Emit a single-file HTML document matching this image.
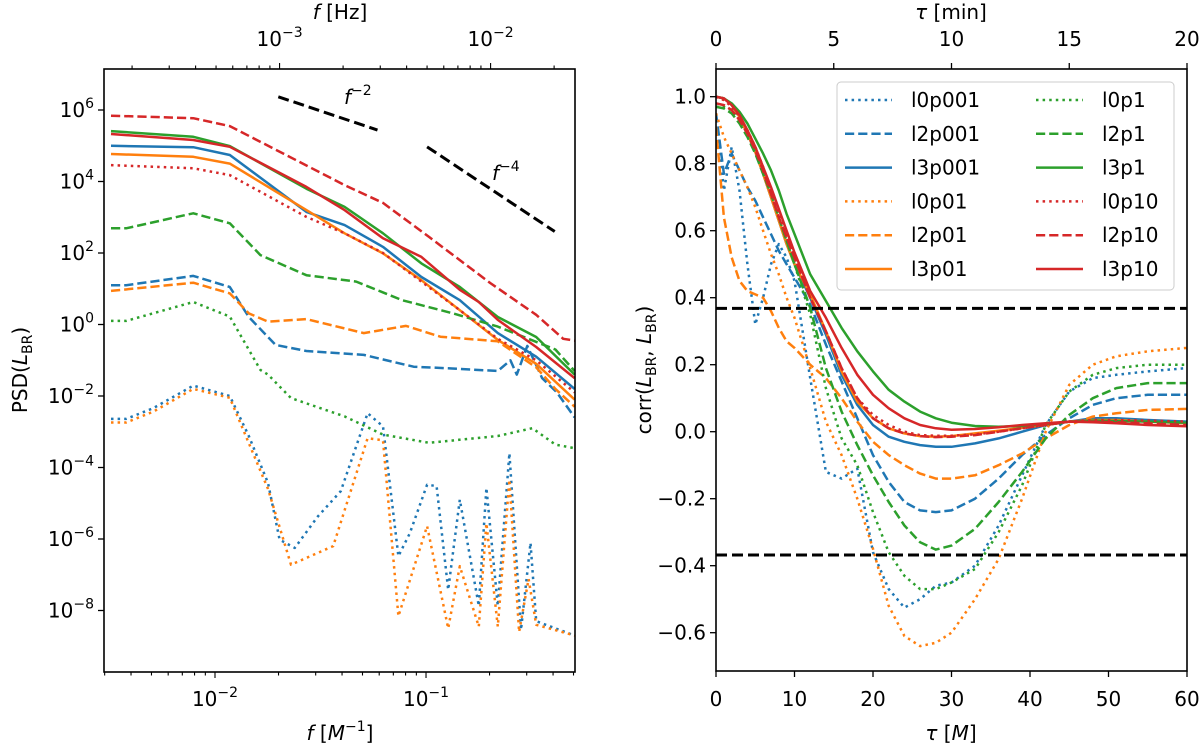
<!DOCTYPE html>
<html><head><meta charset="utf-8"><style>
body{margin:0;background:#fff}
svg{display:block;font-family:"DejaVu Sans","Liberation Sans",sans-serif}
</style></head><body>
<svg id="fig" width="1200" height="746" viewBox="0 0 1200 746" xmlns="http://www.w3.org/2000/svg">
<defs>
<clipPath id="clipL"><rect x="104" y="69" width="471" height="603"/></clipPath>
<clipPath id="clipR"><rect x="716" y="69" width="471" height="602"/></clipPath>
</defs>
<g id="left"></g>
<g id="right"></g>
</svg>
<script>
// ---------- PSD panel data (log10 f [1/M], log10 PSD) ----------
const psdNames = ["l0p001","l2p001","l3p001","l0p01","l2p01","l3p01","l0p1","l2p1","l3p1","l0p10","l2p10","l3p10"];
const lf_l0p001 = [-2.493,-2.421,-2.293,-2.103,-1.93,-1.84,-1.749,-1.694,-1.622,-1.513,-1.404,-1.277,-1.204,-1.131,-1.077,-0.995,-0.95,-0.895,-0.84,-0.75,-0.714,-0.66,-0.605,-0.55,-0.505,-0.478,-0.296];
const lp_l0p001 = [-2.64,-2.64,-2.34,-1.71,-2.0,-3.12,-4.43,-6.02,-6.25,-5.37,-4.66,-2.48,-2.85,-6.48,-5.84,-4.48,-4.52,-7.42,-4.9,-7.87,-4.57,-7.87,-3.6,-8.54,-6.11,-8.3,-8.7];
const lf_l2p001 = [-2.493,-2.421,-2.103,-1.93,-1.84,-1.713,-1.567,-1.295,-1.059,-0.877,-0.66,-0.6,-0.57,-0.52,-0.45,-0.38,-0.296];
const lp_l2p001 = [1.1,1.1,1.36,1.05,0.21,-0.57,-0.74,-0.85,-1.18,-1.23,-1.3,-1.0,-1.4,-0.6,-1.5,-1.9,-2.6];
const lf_l3p001 = [-2.493,-2.103,-1.93,-1.567,-1.386,-1.204,-1.022,-0.84,-0.66,-0.478,-0.296];
const lp_l3p001 = [5.0,4.96,4.74,3.15,2.78,2.17,1.33,0.68,-0.24,-0.9,-1.8];
const lf_l0p01 = [-2.493,-2.421,-2.293,-2.103,-1.93,-1.749,-1.64,-1.44,-1.277,-1.204,-1.131,-0.995,-0.895,-0.84,-0.75,-0.714,-0.66,-0.605,-0.559,-0.514,-0.478,-0.296];
const lp_l0p01 = [-2.74,-2.74,-2.44,-1.8,-2.05,-4.6,-6.72,-6.2,-3.18,-3.24,-8.16,-5.64,-8.5,-6.76,-8.45,-5.56,-8.45,-4.34,-8.6,-7.12,-8.4,-8.7];
const lf_l2p01 = [-2.493,-2.103,-1.93,-1.84,-1.749,-1.567,-1.295,-1.095,-0.932,-0.66,-0.478,-0.387,-0.296];
const lp_l2p01 = [0.94,1.17,0.87,0.31,0.08,0.15,-0.24,-0.04,-0.34,-0.47,-1.2,-1.8,-2.3];
const lf_l3p01 = [-2.493,-2.103,-1.93,-1.567,-1.386,-1.204,-1.022,-0.84,-0.66,-0.478,-0.296];
const lp_l3p01 = [4.77,4.69,4.5,3.2,2.55,1.99,1.24,0.4,-0.43,-1.1,-2.1];
const lf_l0p1 = [-2.493,-2.421,-2.103,-1.93,-1.785,-1.749,-1.64,-1.386,-1.204,-0.986,-0.66,-0.496,-0.387,-0.296];
const lp_l0p1 = [0.1,0.1,0.63,0.22,-1.27,-1.4,-2.06,-2.57,-3.08,-3.31,-3.12,-2.9,-3.36,-3.46];
const lf_l2p1 = [-2.493,-2.421,-2.103,-1.93,-1.785,-1.567,-1.331,-1.113,-0.877,-0.66,-0.387,-0.296];
const lp_l2p1 = [2.69,2.69,3.11,2.83,1.94,1.38,1.2,0.68,0.32,-0.06,-0.7,-1.3];
const lf_l3p1 = [-2.493,-2.103,-1.93,-1.567,-1.386,-1.204,-1.022,-0.84,-0.66,-0.478,-0.296];
const lp_l3p1 = [5.41,5.25,4.99,3.8,3.29,2.55,1.71,1.05,0.21,-0.35,-1.4];
const lf_l0p10 = [-2.493,-2.103,-1.93,-1.567,-1.386,-1.204,-1.022,-0.84,-0.66,-0.478,-0.296];
const lp_l0p10 = [4.46,4.37,4.18,3.01,2.55,2.0,1.2,0.4,-0.4,-1.0,-1.9];
const lf_l2p10 = [-2.493,-2.103,-1.93,-1.386,-1.204,-0.986,-0.696,-0.478,-0.35,-0.296];
const lp_l2p10 = [5.84,5.77,5.55,3.9,3.4,2.45,1.16,0.27,-0.4,-0.45];
const lf_l3p10 = [-2.493,-2.103,-1.93,-1.567,-1.386,-1.204,-1.022,-0.84,-0.75,-0.66,-0.478,-0.296];
const lp_l3p10 = [5.33,5.16,4.97,3.85,3.2,2.41,1.89,0.97,0.63,0.13,-0.63,-1.5];
const refM2_lf = [-1.7,-1.23];
const refM2_lp = [6.37,5.44];
const refM4_lf = [-0.995,-0.39];
const refM4_lp = [4.97,2.6];
const psdYTicks = [6,4,2,0,-2,-4,-6,-8];
const psdXTicks = [-2,-1];
const hzXTicks = [-3,-2];

// ---------- Correlation panel data ----------
const tau = [0,1,2,3,4,5,6,7,8,9,10,12,14,16,18,20,22,24,26,28,30,33,36,39,42,45,48,51,55,60];
const c_l0p001 = [0.95,0.72,0.85,0.72,0.5,0.32,0.4,0.5,0.56,0.52,0.45,0.16,-0.12,-0.14,-0.11,-0.36,-0.47,-0.525,-0.5,-0.46,-0.45,-0.4,-0.28,-0.13,0.02,0.12,0.16,0.17,0.18,0.19];
const c_l2p001 = [0.95,0.77,0.83,0.78,0.73,0.69,0.64,0.59,0.54,0.5,0.46,0.38,0.26,0.15,0.04,-0.07,-0.15,-0.21,-0.235,-0.24,-0.235,-0.2,-0.14,-0.07,-0.01,0.04,0.08,0.1,0.11,0.11];
const c_l3p001 = [1,0.995,0.975,0.94,0.89,0.835,0.77,0.7,0.63,0.56,0.5,0.4,0.29,0.17,0.08,0.02,-0.015,-0.03,-0.04,-0.045,-0.045,-0.035,-0.02,0,0.02,0.03,0.04,0.04,0.035,0.03];
const c_l0p01 = [0.95,0.88,0.83,0.78,0.73,0.67,0.6,0.53,0.47,0.4,0.34,0.19,0.03,-0.07,-0.2,-0.35,-0.52,-0.61,-0.64,-0.63,-0.6,-0.5,-0.38,-0.2,0,0.14,0.2,0.225,0.24,0.25];
const c_l2p01 = [0.91,0.64,0.52,0.45,0.42,0.41,0.4,0.36,0.31,0.27,0.25,0.2,0.16,0.1,0.03,-0.03,-0.07,-0.1,-0.125,-0.14,-0.14,-0.13,-0.1,-0.065,-0.02,0.02,0.045,0.055,0.065,0.068];
const c_l3p01 = [1,0.995,0.975,0.94,0.89,0.835,0.77,0.7,0.63,0.56,0.5,0.41,0.3,0.18,0.09,0.04,0.01,-0.005,-0.013,-0.015,-0.013,-0.005,0.003,0.012,0.02,0.03,0.035,0.035,0.03,0.025];
const c_l0p1 = [0.97,0.97,0.96,0.93,0.89,0.84,0.78,0.71,0.64,0.57,0.5,0.35,0.13,-0.02,-0.1,-0.24,-0.36,-0.43,-0.47,-0.47,-0.45,-0.41,-0.3,-0.16,0.02,0.12,0.17,0.19,0.2,0.2];
const c_l2p1 = [0.97,0.965,0.95,0.92,0.88,0.83,0.77,0.71,0.64,0.57,0.5,0.37,0.19,0.06,-0.04,-0.13,-0.21,-0.28,-0.33,-0.352,-0.34,-0.29,-0.21,-0.12,-0.02,0.05,0.1,0.13,0.145,0.145];
const c_l3p1 = [1,0.995,0.98,0.955,0.92,0.875,0.83,0.78,0.72,0.65,0.59,0.47,0.39,0.31,0.24,0.18,0.125,0.09,0.06,0.04,0.027,0.017,0.015,0.017,0.022,0.03,0.033,0.032,0.03,0.027];
const c_l0p10 = [1,0.99,0.97,0.94,0.9,0.85,0.79,0.72,0.65,0.58,0.52,0.4,0.3,0.19,0.1,0.05,0.02,0,-0.01,-0.012,-0.012,-0.008,0,0.01,0.02,0.03,0.035,0.035,0.033,0.03];
const c_l2p10 = [0.98,0.975,0.96,0.93,0.89,0.84,0.78,0.71,0.64,0.58,0.52,0.4,0.3,0.19,0.1,0.04,0.01,-0.005,-0.013,-0.016,-0.015,-0.01,0,0.01,0.02,0.03,0.03,0.028,0.025,0.02];
const c_l3p10 = [1,0.995,0.975,0.945,0.9,0.85,0.79,0.73,0.665,0.6,0.535,0.42,0.34,0.25,0.17,0.11,0.07,0.04,0.02,0.01,0.006,0.008,0.013,0.02,0.025,0.03,0.028,0.025,0.02,0.016];
const corrYTicks = [-0.6,-0.4,-0.2,0.0,0.2,0.4,0.6,0.8,1.0];
const corrXTicks = [0,10,20,30,40,50,60];
const minTicks = [0,5,10,15,20];
const threshold = [0.368,-0.368];

const NS="http://www.w3.org/2000/svg";
function mk(tag, attrs, parent){const e=document.createElementNS(NS,tag);for(const k in attrs)e.setAttribute(k,attrs[k]);parent.appendChild(e);return e;}
const colors={p001:"#1f77b4",p01:"#ff7f0e",p1:"#2ca02c",p10:"#d62728"};
function styleOf(name){const lv=name.slice(0,2);const p=name.slice(2);const c=colors[p];
 let dash=""; if(lv==="l0")dash="2.5,4.1"; else if(lv==="l2")dash="9.2,4";
 return {c,dash};}

// Left axes
const L={x0:104,x1:575,y0:69,y1:672,lfmin:-2.526,lfmax:-0.294,lpmax:7.14,lpmin:-9.72};
function lx(v){return L.x0+(v-L.lfmin)/(L.lfmax-L.lfmin)*(L.x1-L.x0);}
function ly(v){return 324.5-v*35.75;}
const gl=document.getElementById('left');
const datL={l0p001:[lf_l0p001,lp_l0p001],l2p001:[lf_l2p001,lp_l2p001],l3p001:[lf_l3p001,lp_l3p001],l0p01:[lf_l0p01,lp_l0p01],l2p01:[lf_l2p01,lp_l2p01],l3p01:[lf_l3p01,lp_l3p01],l0p1:[lf_l0p1,lp_l0p1],l2p1:[lf_l2p1,lp_l2p1],l3p1:[lf_l3p1,lp_l3p1],l0p10:[lf_l0p10,lp_l0p10],l2p10:[lf_l2p10,lp_l2p10],l3p10:[lf_l3p10,lp_l3p10]};
const gLines=mk('g',{'clip-path':'url(#clipL)'},gl);


psdNames.forEach(n=>{const [xs,ys]=datL[n];const s=styleOf(n);
 const d=xs.map((v,i)=>(i?'L':'M')+lx(v).toFixed(1)+','+ly(ys[i]).toFixed(1)).join('');
 const p=mk('path',{d,fill:'none',stroke:s.c,'stroke-width':2.5,'stroke-dasharray':s.dash,'stroke-linejoin':'round'},gLines);
 
 });
[[refM2_lf,refM2_lp,'ref-f-2'],[refM4_lf,refM4_lp,'ref-f-4']].forEach(r=>{
 const p=mk('line',{x1:lx(r[0][0]),y1:ly(r[1][0]),x2:lx(r[0][1]),y2:ly(r[1][1]),stroke:'#000','stroke-width':3,'stroke-dasharray':'11,5'},gl);
 
 });
function txt(parent,x,y,s,attrs,name){const t=mk('text',Object.assign({x,y,'font-size':20,fill:'#000'},attrs||{}),parent);t.innerHTML=s;return t;}
txt(gl,344,104,'<tspan font-style="italic">f</tspan><tspan font-size="14" dy="-9">−2</tspan>',{},'label-f-2');
txt(gl,492,180,'<tspan font-style="italic">f</tspan><tspan font-size="14" dy="-9">−4</tspan>',{},'label-f-4');
mk('rect',{x:L.x0,y:L.y0,width:L.x1-L.x0,height:L.y1-L.y0,fill:'none',stroke:'#000','stroke-width':1.6},gl);
psdYTicks.forEach(v=>{const y=ly(v);mk('line',{x1:L.x0-6,x2:L.x0,y1:y,y2:y,stroke:'#000','stroke-width':1.3},gl);
 txt(gl,L.x0-10,y+7,'10<tspan font-size="14" dy="-9">'+(v<0?'−'+(-v):v)+'</tspan>',{'text-anchor':'end'},'ytick-'+v);});
for(let d=-3;d<=-1;d++){for(let m=1;m<=9;m++){const v=d+Math.log10(m);if(v<L.lfmin-1e-3||v>L.lfmax)continue;
 const x=lx(v);mk('line',{x1:x,x2:x,y1:L.y1,y2:L.y1+(m===1?6:3.5),stroke:'#000','stroke-width':1.1},gl);}}
psdXTicks.forEach(v=>txt(gl,lx(v),706,'10<tspan font-size="14" dy="-9">−'+(-v)+'</tspan>',{'text-anchor':'middle'},'xtick-'+v));
const off=1.306;
for(let d=-4;d<=-2;d++){for(let m=1;m<=9;m++){const v=d+Math.log10(m)+off;if(v<L.lfmin-1e-3||v>L.lfmax)continue;
 const x=lx(v);mk('line',{x1:x,x2:x,y1:L.y0,y2:L.y0-(m===1?6:3.5),stroke:'#000','stroke-width':1.1},gl);}}
hzXTicks.forEach(v=>txt(gl,lx(v+off),46,'10<tspan font-size="14" dy="-9">−'+(-v)+'</tspan>',{'text-anchor':'middle'},'top-xtick-'+v));
txt(gl,340,740,'<tspan font-style="italic">f</tspan> [<tspan font-style="italic">M</tspan><tspan font-size="14" dy="-9">−1</tspan><tspan dy="9">]</tspan>',{'text-anchor':'middle'},'x-axis-title');
txt(gl,340,19,'<tspan font-style="italic">f</tspan> [Hz]',{'text-anchor':'middle'},'top-x-axis-title');
txt(gl,0,0,'PSD(<tspan font-style="italic">L</tspan><tspan font-size="14" dy="5">BR</tspan><tspan dy="-5">)</tspan>',{transform:'translate(27,370) rotate(-90)','text-anchor':'middle'},'y-axis-title');

// Right axes
const R={x0:716,x1:1187,y0:69,y1:671};
function rx(t){return R.x0+t*(R.x1-R.x0)/60;}
function ry(v){return 431.7-v*335;}
const gr=document.getElementById('right');
const datR={l0p001:c_l0p001,l2p001:c_l2p001,l3p001:c_l3p001,l0p01:c_l0p01,l2p01:c_l2p01,l3p01:c_l3p01,l0p1:c_l0p1,l2p1:c_l2p1,l3p1:c_l3p1,l0p10:c_l0p10,l2p10:c_l2p10,l3p10:c_l3p10};
const gRL=mk('g',{'clip-path':'url(#clipR)'},gr);


psdNames.forEach(n=>{const ys=datR[n];const s=styleOf(n);
 const d=tau.map((t,i)=>(i?'L':'M')+rx(t).toFixed(1)+','+ry(ys[i]).toFixed(1)).join('');
 const p=mk('path',{d,fill:'none',stroke:s.c,'stroke-width':2.5,'stroke-dasharray':s.dash,'stroke-linejoin':'round'},gRL);
 
 });
threshold.forEach((v,i)=>{const p=mk('line',{x1:R.x0,x2:R.x1,y1:ry(v),y2:ry(v),stroke:'#000','stroke-width':3,'stroke-dasharray':'11,5'},gRL);
 
 });
mk('rect',{x:R.x0,y:R.y0,width:R.x1-R.x0,height:R.y1-R.y0,fill:'none',stroke:'#000','stroke-width':1.6},gr);
corrYTicks.forEach(v=>{const y=ry(v);mk('line',{x1:R.x0-6,x2:R.x0,y1:y,y2:y,stroke:'#000','stroke-width':1.3},gr);
 txt(gr,R.x0-10,y+7,(v<0?'−':'')+Math.abs(v).toFixed(1),{'text-anchor':'end'},'corr-ytick');});
corrXTicks.forEach(t=>{const x=rx(t);mk('line',{x1:x,x2:x,y1:R.y1,y2:R.y1+6,stroke:'#000','stroke-width':1.3},gr);
 txt(gr,x,706,String(t),{'text-anchor':'middle'},'corr-xtick');});
minTicks.forEach(m=>{const x=rx(m*3);mk('line',{x1:x,x2:x,y1:R.y0,y2:R.y0-6,stroke:'#000','stroke-width':1.3},gr);
 txt(gr,x,46,String(m),{'text-anchor':'middle'},'min-xtick');});
txt(gr,951,740,'<tspan font-style="italic">τ</tspan> [<tspan font-style="italic">M</tspan>]',{'text-anchor':'middle'},'corr-x-axis-title');
txt(gr,951,19,'<tspan font-style="italic">τ</tspan> [min]',{'text-anchor':'middle'},'corr-top-axis-title');
txt(gr,0,0,'corr(<tspan font-style="italic">L</tspan><tspan font-size="14" dy="5">BR</tspan><tspan dy="-5">, </tspan><tspan font-style="italic">L</tspan><tspan font-size="14" dy="5">BR</tspan><tspan dy="-5">)</tspan>',{transform:'translate(651,370) rotate(-90)','text-anchor':'middle'},'corr-y-axis-title');
// legend
const lg=mk('g',{},gr);


mk('rect',{x:837,y:82,width:337,height:208,rx:4,fill:'#fff','fill-opacity':0.8,stroke:'#ccc','stroke-width':1},lg);
psdNames.forEach((n,i)=>{const col=Math.floor(i/6),row=i%6;const s=styleOf(n);
 const x=col?1036:845,y=100+row*33.8;
 const e=mk('g',{},lg);
 
 
 mk('line',{x1:x,x2:x+47,y1:y,y2:y,stroke:s.c,'stroke-width':2.5,'stroke-dasharray':s.dash},e);
 const t=mk('text',{x:x+66,y:y+7,'font-size':20},e);t.textContent=n;});
</script>
</body></html>
